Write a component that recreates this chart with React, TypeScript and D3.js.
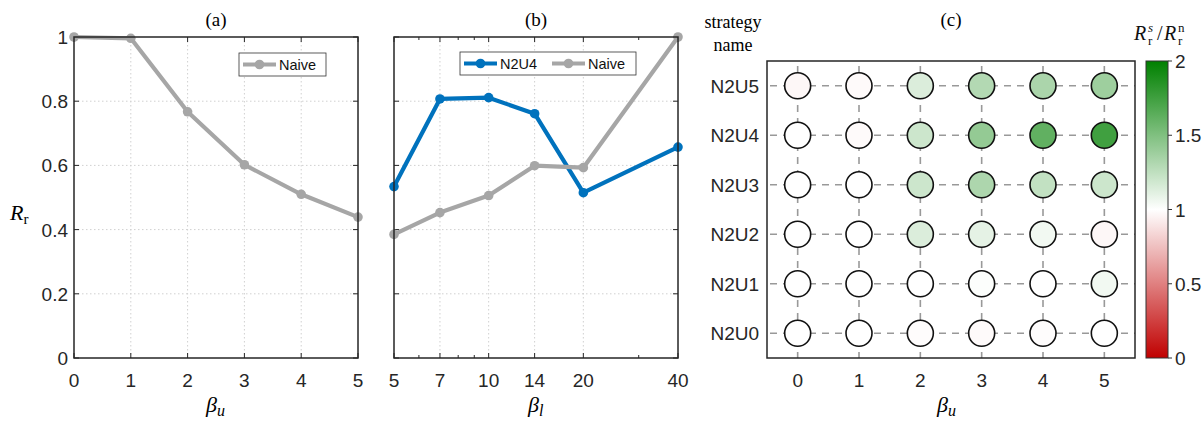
import React, { useEffect, useRef } from "react";
import * as d3 from "d3";

// panel (a): Naive vs beta_u
const betaU = [0, 1, 2, 3, 4, 5];
const naiveA = [1.0, 0.996, 0.767, 0.602, 0.51, 0.439];

// panel (b): N2U4 and Naive vs beta_l (log axis)
const betaL = [5, 7, 10, 14, 20, 40];
const n2u4B = [0.534, 0.807, 0.811, 0.761, 0.515, 0.657];
const naiveB = [0.385, 0.453, 0.506, 0.599, 0.593, 1.0];
const betaLMinor = [6, 8, 9, 30];

// panel (c): ratio R_r^s / R_r^n, rows = strategies, cols = beta_u
const strategies = ["N2U0", "N2U1", "N2U2", "N2U3", "N2U4", "N2U5"];
const ratio = [
  [1.0, 1.0, 0.99, 0.98, 0.99, 1.0], // N2U0
  [1.0, 1.0, 1.0, 1.01, 1.0, 1.05], // N2U1
  [1.0, 1.0, 1.14, 1.1, 1.05, 0.97], // N2U2
  [1.0, 1.0, 1.2, 1.32, 1.24, 1.2], // N2U3
  [1.0, 0.98, 1.2, 1.42, 1.62, 1.75], // N2U4
  [0.97, 0.98, 1.14, 1.3, 1.33, 1.38], // N2U5
];
const cbTicks = [0, 0.5, 1, 1.5, 2];

const GRAY = "#a6a6a6";
const BLUE = "#0072bd";
const AX = "#262626";
const SANS = "Liberation Sans, Arial, sans-serif";
const SERIF = "Liberation Serif, Times New Roman, serif";
const TICK_FS = 19;

const App = () => {
  const ref = useRef<SVGSVGElement>(null);

  useEffect(() => {
    const svg = d3.select(ref.current);
    svg.selectAll("*").remove();

    const top = 37, bottom = 358;
    const y = d3.scaleLinear().domain([0, 1]).range([bottom, top]);
    const yTicks = [0, 0.2, 0.4, 0.6, 0.8, 1];

    const drawLinePanel = (
      g: any,
      x: any,
      x0: number,
      x1: number,
      gridX: number[],
      majorX: number[],
      minorX: number[],
      series: { vals: number[]; color: string }[],
      xs: number[],
      showYLabels: boolean
    ) => {
      // grid
      g.selectAll(".gx").data(gridX).enter().append("line")
        .attr("x1", (d) => x(d)).attr("x2", (d) => x(d))
        .attr("y1", top).attr("y2", bottom)
        .attr("stroke", "#d0d0d0").attr("stroke-dasharray", "1.5,2.5");
      g.selectAll(".gy").data(yTicks.slice(1, -1)).enter().append("line")
        .attr("x1", x0).attr("x2", x1)
        .attr("y1", (d) => y(d)).attr("y2", (d) => y(d))
        .attr("stroke", "#d0d0d0").attr("stroke-dasharray", "1.5,2.5");

      // ticks inward
      const tk = (vals: number[], len: number) => {
        vals.forEach((v) => {
          g.append("line").attr("x1", x(v)).attr("x2", x(v)).attr("y1", bottom).attr("y2", bottom - len).attr("stroke", AX);
          g.append("line").attr("x1", x(v)).attr("x2", x(v)).attr("y1", top).attr("y2", top + len).attr("stroke", AX);
        });
      };
      tk(majorX, 5);
      tk(minorX, 3);
      yTicks.forEach((v) => {
        g.append("line").attr("x1", x0).attr("x2", x0 + 5).attr("y1", y(v)).attr("y2", y(v)).attr("stroke", AX);
        g.append("line").attr("x1", x1).attr("x2", x1 - 5).attr("y1", y(v)).attr("y2", y(v)).attr("stroke", AX);
      });

      // lines
      series.forEach((s) => {
        const line = d3.line<number>().x((_, i) => x(xs[i])).y((d) => y(d));
        g.append("path").attr("d", line(s.vals)).attr("fill", "none")
          .attr("stroke", s.color).attr("stroke-width", 4.2).attr("stroke-linejoin", "round");
        g.selectAll(null).data(s.vals).enter().append("circle")
          .attr("cx", (_, i) => x(xs[i])).attr("cy", (d) => y(d)).attr("r", 4.8)
          .attr("fill", s.color);
      });

      // box
      g.append("rect").attr("x", x0).attr("y", top).attr("width", x1 - x0).attr("height", bottom - top)
        .attr("fill", "none").attr("stroke", AX).attr("stroke-width", 1.5);

      // x labels
      majorX.forEach((v) => {
        g.append("text").attr("x", x(v)).attr("y", 387).attr("text-anchor", "middle")
          .attr("font-family", SANS).attr("font-size", TICK_FS).attr("fill", AX).text(String(v));
      });
      if (showYLabels) {
        yTicks.forEach((v) => {
          g.append("text").attr("x", x0 - 6).attr("y", y(v) + 7).attr("text-anchor", "end")
            .attr("font-family", SANS).attr("font-size", TICK_FS).attr("fill", AX).text(String(v));
        });
      }
    };

    const legend = (g: any, lx: number, ly: number, w: number, items: { label: string; color: string; tx: number }[]) => {
      g.append("rect").attr("x", lx).attr("y", ly).attr("width", w).attr("height", 23)
        .attr("fill", "white").attr("stroke", "#333").attr("stroke-width", 0.8);
      items.forEach((it) => {
        const sx = lx + it.tx;
        g.append("line").attr("x1", sx + 4).attr("x2", sx + 37).attr("y1", ly + 11.5).attr("y2", ly + 11.5)
          .attr("stroke", it.color).attr("stroke-width", 4.2);
        g.append("circle").attr("cx", sx + 20.5).attr("cy", ly + 11.5).attr("r", 4.8).attr("fill", it.color);
        g.append("text").attr("x", sx + 40).attr("y", ly + 17).attr("font-family", SANS)
          .attr("font-size", 14.5).attr("fill", "#111").text(it.label);
      });
    };

    // ---- panel (a)
    const ga = svg.append("g");
    const xa = d3.scaleLinear().domain([0, 5]).range([74, 358]);
    drawLinePanel(ga, xa, 74, 358, [1, 2, 3, 4], betaU, [], [{ vals: naiveA, color: GRAY }], betaU, true);
    legend(ga, 239, 53, 87, [{ label: "Naive", color: GRAY, tx: 0 }]);
    ga.append("text").attr("x", 216).attr("y", 26).attr("text-anchor", "middle")
      .attr("font-family", SERIF).attr("font-size", 19).text("(a)");
    const ra = ga.append("text").attr("x", 10).attr("y", 220).attr("font-family", SERIF).attr("font-size", 22);
    ra.append("tspan").attr("font-style", "italic").text("R");
    ra.append("tspan").attr("font-size", 15).attr("dy", 4).text("r");
    const bu = ga.append("text").attr("x", 206).attr("y", 412).attr("font-family", SERIF).attr("font-size", 22).attr("font-style", "italic");
    bu.append("tspan").text("β");
    bu.append("tspan").attr("font-size", 16).attr("dy", 4).text("u");

    // ---- panel (b)
    const gb = svg.append("g");
    const xb = d3.scaleLog().domain([5, 40]).range([394, 678]);
    drawLinePanel(gb, xb, 394, 678, [7, 10, 14, 20], betaL, betaLMinor, [
      { vals: n2u4B, color: BLUE },
      { vals: naiveB, color: GRAY },
    ], betaL, false);
    legend(gb, 460, 52, 176, [
      { label: "N2U4", color: BLUE, tx: 0 },
      { label: "Naive", color: GRAY, tx: 88 },
    ]);
    gb.append("text").attr("x", 536).attr("y", 26).attr("text-anchor", "middle")
      .attr("font-family", SERIF).attr("font-size", 19).text("(b)");
    const bl = gb.append("text").attr("x", 528).attr("y", 412).attr("font-family", SERIF).attr("font-size", 22).attr("font-style", "italic");
    bl.append("tspan").text("β");
    bl.append("tspan").attr("font-size", 16).attr("dy", 4).text("l");

    // ---- panel (c)
    const gc = svg.append("g");
    const cx0 = 767, cx1 = 1135, cy0 = 61, cy1 = 358;
    const xc = d3.scaleLinear().domain([-0.5, 5.5]).range([cx0, cx1]);
    const yc = d3.scaleLinear().domain([-0.5, 5.5]).range([cy1, cy0]);
    const color = d3.scaleLinear<string>().domain([0, 1, 2]).range(["#c00000", "#ffffff", "#008000"]);

    betaU.forEach((_, i) => {
      gc.append("line").attr("x1", xc(i)).attr("x2", xc(i)).attr("y1", cy0).attr("y2", cy1)
        .attr("stroke", "#999").attr("stroke-width", 1.6).attr("stroke-dasharray", "7,6").attr("stroke-dashoffset", -5);
      gc.append("text").attr("x", xc(i)).attr("y", 387).attr("text-anchor", "middle")
        .attr("font-family", SANS).attr("font-size", TICK_FS).attr("fill", AX).text(String(betaU[i]));
    });
    strategies.forEach((s, j) => {
      gc.append("line").attr("x1", cx0).attr("x2", cx1).attr("y1", yc(j)).attr("y2", yc(j))
        .attr("stroke", "#999").attr("stroke-width", 1.6).attr("stroke-dasharray", "7,6").attr("stroke-dashoffset", -3);
      gc.append("text").attr("x", 759).attr("y", yc(j) + 7).attr("text-anchor", "end")
        .attr("font-family", SANS).attr("font-size", TICK_FS).attr("fill", AX).text(s);
    });
    ratio.forEach((row, j) => {
      row.forEach((v, i) => {
        gc.append("circle").attr("cx", xc(i)).attr("cy", yc(j)).attr("r", 13)
          .attr("fill", color(v)).attr("stroke", "#111").attr("stroke-width", 1.6);
      });
    });
    gc.append("rect").attr("x", cx0).attr("y", cy0).attr("width", cx1 - cx0).attr("height", cy1 - cy0)
      .attr("fill", "none").attr("stroke", AX).attr("stroke-width", 1.5);
    gc.append("text").attr("x", 951).attr("y", 26).attr("text-anchor", "middle")
      .attr("font-family", SERIF).attr("font-size", 19).text("(c)");
    gc.append("text").attr("x", 733).attr("y", 28).attr("text-anchor", "middle")
      .attr("font-family", SERIF).attr("font-size", 18).text("strategy");
    gc.append("text").attr("x", 733).attr("y", 51).attr("text-anchor", "middle")
      .attr("font-family", SERIF).attr("font-size", 18).text("name");
    const bc = gc.append("text").attr("x", 937).attr("y", 412).attr("font-family", SERIF).attr("font-size", 22).attr("font-style", "italic");
    bc.append("tspan").text("β");
    bc.append("tspan").attr("font-size", 16).attr("dy", 4).text("u");

    // colorbar
    const cbx = 1146, cbw = 22;
    const yb = d3.scaleLinear().domain([0, 2]).range([cy1, cy0]);
    const defs = svg.append("defs");
    const grad = defs.append("linearGradient").attr("id", "cbgrad").attr("x1", 0).attr("x2", 0).attr("y1", 1).attr("y2", 0);
    d3.range(0, 2.01, 0.1).forEach((v) => {
      grad.append("stop").attr("offset", `${(v / 2) * 100}%`).attr("stop-color", color(v));
    });
    gc.append("rect").attr("x", cbx).attr("y", cy0).attr("width", cbw).attr("height", cy1 - cy0)
      .attr("fill", "url(#cbgrad)").attr("stroke", "#333").attr("stroke-width", 1);
    cbTicks.forEach((t) => {
      gc.append("line").attr("x1", cbx + cbw).attr("x2", cbx + cbw + 4).attr("y1", yb(t)).attr("y2", yb(t)).attr("stroke", "#333");
      gc.append("text").attr("x", cbx + cbw + 7).attr("y", yb(t) + 7)
        .attr("font-family", SANS).attr("font-size", TICK_FS).attr("fill", AX).text(String(t));
    });
    // colorbar title R_r^s / R_r^n, pieces placed one by one
    const lab = (x: number, yy: number, t: string, size: number, italic: boolean) =>
      gc.append("text").attr("x", x).attr("y", yy).attr("font-family", SERIF).attr("font-size", size)
        .attr("font-style", italic ? "italic" : "normal").attr("fill", "#111").text(t);
    lab(1134, 40, "R", 20, true);
    lab(1148, 32, "s", 13, true);
    lab(1148, 45, "r", 13, false);
    lab(1157, 40, "/", 20, false);
    lab(1164, 40, "R", 20, true);
    lab(1178, 32, "n", 13, false);
    lab(1178, 45, "r", 13, false);
  }, []);

  return (
    <svg ref={ref} width={1203} height={422} style={{ position: "absolute", left: 0, top: 0, background: "white" }} />
  );
};

export default App;
